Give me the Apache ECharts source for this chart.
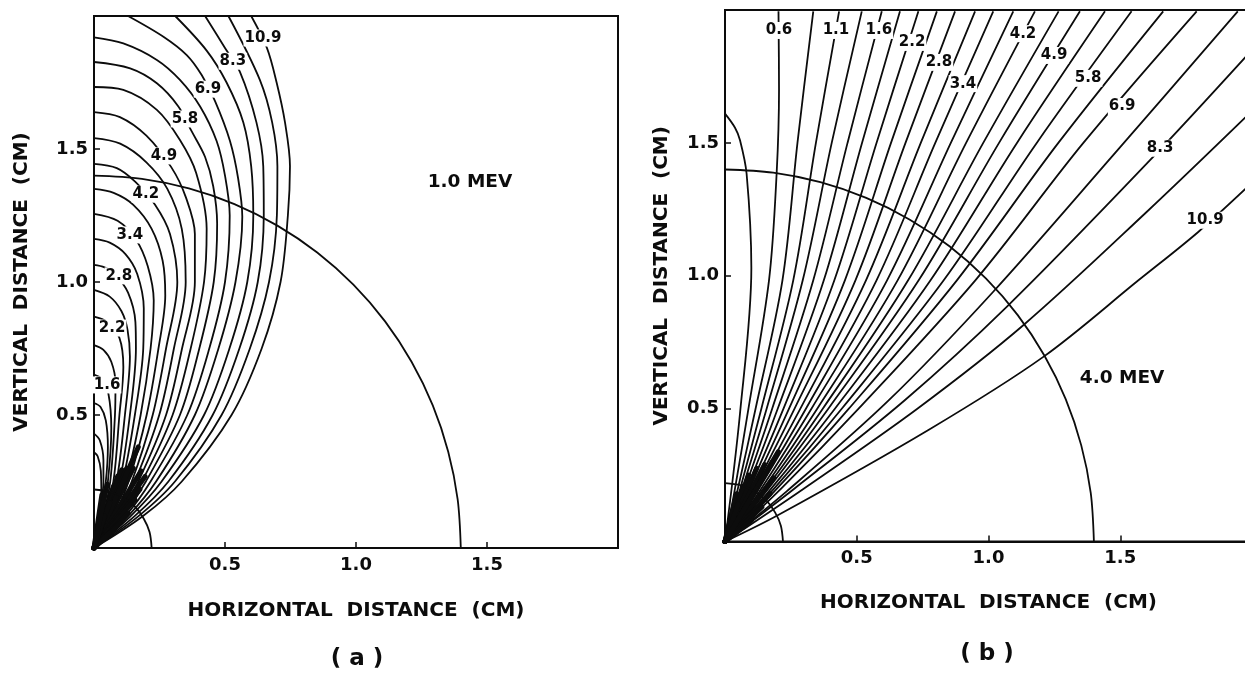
<!DOCTYPE html>
<html><head><meta charset="utf-8">
<style>html,body{margin:0;padding:0;background:#fff}#c{width:1245px;height:676px}</style>
<script src="https://cdn.jsdelivr.net/npm/echarts@6/dist/echarts.min.js"></script>
</head><body><div id="c"></div>
<script>
// Panel (a), 1.0 MeV: contour curves, [horizontal cm, vertical cm]
const a1=[[0,0],[.187,.12],[.335,.25],[.525,.5],[.64,.75],[.712,1],[.74,1.25],[.748,1.435],[.729,1.6],[.697,1.75],[.66,1.88],[.6,2]];
const a2=[[0,0],[.17,.12],[.309,.25],[.487,.5],[.595,.75],[.668,1],[.698,1.25],[.7,1.435],[.68,1.6],[.633,1.76],[.513,2]];
const a3=[[0,0],[.155,.12],[.284,.25],[.453,.5],[.555,.75],[.625,1],[.648,1.25],[.646,1.435],[.62,1.6],[.557,1.79],[.5,1.88],[.424,2]];
const a4=[[0,0],[.14,.12],[.258,.25],[.42,.5],[.517,.75],[.585,1],[.608,1.25],[.6,1.435],[.57,1.6],[.506,1.75],[.43,1.87],[.31,2]];
const a5=[[0,0],[.13,.12],[.237,.25],[.385,.5],[.475,.75],[.54,1],[.566,1.245],[.55,1.39],[.519,1.53],[.462,1.68],[.411,1.778],[.354,1.853],[.265,1.922],[.13,2]];
const a6=[[0,0],[.12,.12],[.216,.25],[.356,.5],[.44,.75],[.5,1],[.518,1.25],[.5,1.4],[.468,1.53],[.405,1.66],[.328,1.76],[.24,1.835],[.112,1.897],[0,1.92]];
const a7=[[0,0],[.11,.12],[.198,.25],[.328,.5],[.402,.75],[.457,1],[.47,1.22],[.455,1.36],[.424,1.47],[.373,1.566],[.322,1.66],[.24,1.747],[.138,1.803],[0,1.827]];
const a8=[[0,0],[.1,.12],[.183,.25],[.3,.5],[.369,.75],[.42,1],[.43,1.2],[.39,1.41],[.328,1.534],[.24,1.647],[.112,1.722],[0,1.733]];
const a9=[[0,0],[.095,.12],[.169,.25],[.275,.5],[.336,.75],[.385,1],[.385,1.18],[.35,1.32],[.296,1.43],[.2,1.55],[.099,1.62],[0,1.639]];
const a10=[[0,0],[.09,.12],[.156,.25],[.249,.5],[.305,.75],[.35,1],[.335,1.2],[.28,1.35],[.2,1.45],[.1,1.52],[0,1.541]];
const a11=[[0,0],[.08,.12],[.144,.25],[.224,.5],[.275,.75],[.318,1],[.29,1.18],[.233,1.29],[.157,1.377],[.087,1.428],[0,1.444]];
const a12=[[0,0],[.075,.12],[.132,.25],[.201,.5],[.246,.75],[.272,.95],[.262,1.08],[.22,1.2],[.15,1.29],[.075,1.335],[0,1.35]];
const a13=[[0,0],[.068,.12],[.121,.25],[.178,.5],[.216,.75],[.228,.93],[.205,1.06],[.16,1.16],[.09,1.23],[0,1.256]];
const a14=[[0,0],[.06,.12],[.109,.25],[.156,.5],[.188,.75],[.19,.9],[.165,1.03],[.12,1.105],[.06,1.148],[0,1.162]];
const a15=[[0,0],[.053,.12],[.098,.25],[.137,.5],[.16,.75],[.158,.85],[.13,.96],[.08,1.03],[.04,1.055],[0,1.064]];
const a16=[[0,0],[.047,.12],[.086,.25],[.118,.5],[.137,.72],[.128,.82],[.105,.89],[.06,.945],[0,.97]];
const a17=[[0,0],[.04,.12],[.074,.25],[.097,.5],[.112,.68],[.097,.79],[.05,.85],[0,.87]];
const a18=[[0,0],[.035,.12],[.062,.25],[.08,.5],[.082,.62],[.066,.7],[.036,.745],[0,.763]];
const a19=[[0,0],[.03,.12],[.053,.25],[.066,.45],[.055,.58],[.03,.635],[0,.652]];
const a20=[[0,0],[.025,.12],[.045,.25],[.053,.38],[.045,.48],[.025,.53],[0,.545]];
const a21=[[0,0],[.02,.12],[.036,.25],[.036,.33],[.022,.405],[0,.43]];
const a22=[[0,0],[.016,.1],[.028,.2],[.026,.29],[.014,.345],[0,.36]];
const aCurves=[a1,a2,a3,a4,a5,a6,a7,a8,a9,a10,a11,a12,a13,a14,a15,a16,a17,a18,a19,a20,a21,a22];
// Dense contours crowding into the origin of panel (a): end of each short spoke
const aDenseEnds=[[.074,.232],[.09,.27],[.106,.294],[.125,.3],[.14,.31],[.15,.3],[.169,.38],[.18,.29],[.195,.269],[.175,.22],[.156,.182],[.13,.13],[.1,.094],[.06,.17],[.04,.12],[.03,.2],[.05,.24]];

// Panel (b), 4.0 MeV
const b0=[[0,0],[.057,.483],[.1,1.03],[.082,1.384],[.057,1.51],[.038,1.557],[0,1.61]];
const b1=[[0,0],[.038,.2],[.089,.5],[.167,.983],[.196,1.386],[.205,1.7],[.203,1.995]];
const b2=[[0,0],[.049,.2],[.116,.5],[.218,.983],[.275,1.5],[.335,1.995]];
const b3=[[0,0],[.058,.2],[.138,.5],[.259,.983],[.345,1.5],[.433,1.995]];
const b4=[[0,0],[.066,.2],[.158,.5],[.295,.983],[.405,1.5],[.519,1.995]];
const b5=[[0,0],[.075,.2],[.179,.5],[.335,.983],[.465,1.5],[.595,1.995]];
const b6=[[0,0],[.084,.2],[.2,.5],[.375,.983],[.52,1.5],[.664,1.995]];
const b7=[[0,0],[.093,.2],[.222,.5],[.415,.983],[.575,1.5],[.734,1.995]];
const b8=[[0,0],[.102,.2],[.243,.5],[.455,.983],[.63,1.5],[.804,1.995]];
const b9=[[0,0],[.111,.2],[.264,.5],[.495,.983],[.685,1.5],[.873,1.995]];
const b10=[[0,0],[.12,.2],[.286,.5],[.535,.983],[.743,1.5],[.949,1.995]];
const b11=[[0,0],[.129,.2],[.307,.5],[.575,.983],[.798,1.5],[1.018,1.995]];
const b12=[[0,0],[.138,.2],[.328,.5],[.615,.983],[.857,1.5],[1.094,1.995]];
const b13=[[0,0],[.147,.2],[.35,.5],[.655,.983],[.915,1.5],[1.176,1.995]];
const b14=[[0,0],[.156,.2],[.371,.5],[.695,.983],[.98,1.5],[1.266,1.995]];
const b15=[[0,0],[.165,.2],[.392,.5],[.735,.983],[1.04,1.5],[1.347,1.995]];
const b16=[[0,0],[.176,.2],[.417,.5],[.78,.983],[1.108,1.5],[1.442,1.995]];
const b17=[[0,0],[.187,.2],[.443,.5],[.83,.983],[1.183,1.5],[1.543,1.995]];
const b18=[[0,0],[.198,.2],[.47,.5],[.88,.983],[1.265,1.5],[1.663,1.995]];
const b19=[[0,0],[.214,.2],[.507,.5],[.95,.983],[1.36,1.5],[1.79,1.995]];
const b20=[[0,0],[.235,.19],[.62,.53],[1.018,.94],[1.47,1.45],[1.946,1.995]];
const b21=[[0,0],[.264,.2],[.68,.53],[1.075,.889],[1.613,1.435],[2,1.85]];
const b22=[[0,0],[.3,.2],[.73,.5],[1.132,.814],[1.6,1.24],[2,1.62]];
const b23=[[0,0],[.202,.1],[.772,.42],[1.208,.695],[1.569,.983],[1.796,1.165],[2,1.35]];
const bCurves=[b0,b1,b2,b3,b4,b5,b6,b7,b8,b9,b10,b11,b12,b13,b14,b15,b16,b17,b18,b19,b20,b21,b22,b23];
const bDenseEnds=[[.044,.18],[.07,.21],[.09,.25],[.12,.276],[.15,.29],[.18,.3],[.202,.338],[.185,.24],[.171,.18],[.14,.13],[.1,.08],[.03,.12],[.05,.14],[.12,.2]];

// Range arcs, 1.4 cm and 0.22 cm
const arcOuter=[[0,1.4],[.183,1.388],[.362,1.352],[.536,1.293],[.7,1.212],[.852,1.111],[.99,.99],[1.111,.852],[1.212,.7],[1.293,.536],[1.352,.362],[1.388,.183],[1.4,0]];
const arcInner=[[0,.22],[.06,.212],[.11,.19],[.156,.156],[.19,.11],[.212,.06],[.22,0]];

// Curve labels
const aLabelText=['10.9','8.3','6.9','5.8','4.9','4.2','3.4','2.8','2.2','1.6'];
const aLabelAt=[[.645,1.917],[.53,1.83],[.435,1.725],[.347,1.613],[.267,1.474],[.198,1.33],[.137,1.177],[.095,1.023],[.069,.827],[.05,.613]];
const bLabelText=['0.6','1.1','1.6','2.2','2.8','3.4','4.2','4.9','5.8','6.9','8.3','10.9'];
const bLabelAt=[[.205,1.923],[.421,1.923],[.584,1.923],[.71,1.878],[.812,1.803],[.903,1.723],[1.131,1.911],[1.249,1.829],[1.378,1.743],[1.507,1.637],[1.651,1.48],[1.822,1.209]];
const tickLabels={0.5:'0.5',1:'1.0',1.5:'1.5'};
const xTitle='HORIZONTAL  DISTANCE  (CM)';
const yTitle='VERTICAL  DISTANCE  (CM)';

const FONT='"DejaVu Sans"';
const INK='#0c0c0c';
function axis(name,gap,rot,margin){return {
  type:'value',min:0,max:2,interval:.5,name:name,nameLocation:'middle',nameGap:gap,
  nameTextStyle:{color:INK,fontFamily:FONT,fontWeight:'bold',fontSize:20},
  nameRotate:rot,
  axisLine:{show:true,onZero:false,lineStyle:{color:INK,width:2}},
  axisTick:{show:true,inside:true,length:6,lineStyle:{color:INK,width:1.5}},
  splitLine:{show:false},
  axisLabel:{color:INK,fontFamily:FONT,fontSize:18,fontWeight:'bold',margin:margin,formatter:v=>tickLabels[v]||''}
};}
function line(data,i){return {type:'line',xAxisIndex:i,yAxisIndex:i,data:data,smooth:.33,showSymbol:false,silent:true,
  lineStyle:{color:INK,width:1.8},z:2};}
function spoke(end,i){return {type:'line',xAxisIndex:i,yAxisIndex:i,data:[[0,0],end],showSymbol:false,silent:true,
  lineStyle:{color:INK,width:5,cap:'round'},z:2};}
function labels(text,at,i){return {type:'scatter',xAxisIndex:i,yAxisIndex:i,symbolSize:0,silent:true,z:5,itemStyle:{opacity:1},
  data:at.map((p,k)=>({value:p,name:text[k]})),
  label:{show:true,position:'inside',formatter:'{b}',color:INK,opacity:1,fontFamily:FONT,fontSize:15,fontWeight:'bold',backgroundColor:'#fff',padding:[1,1]}};}
const note=(t,x,y,i)=>({type:'scatter',xAxisIndex:i,yAxisIndex:i,symbolSize:0,silent:true,z:5,itemStyle:{opacity:1},
  data:[{value:[x,y],name:t}],label:{show:true,position:'inside',formatter:'{b}',color:INK,opacity:1,fontFamily:FONT,fontSize:18.5,fontWeight:'bold'}});

const chart=echarts.init(document.getElementById('c'),null,{renderer:'canvas'});
const capStyle={color:INK,fontFamily:FONT,fontWeight:'bold',fontSize:23};
chart.setOption({
  animation:false,backgroundColor:'#fff',
  title:[
    {text:'( a )',left:357,top:648,textAlign:'center',padding:0,textStyle:capStyle},
    {text:'( b )',left:987,top:643,textAlign:'center',padding:0,textStyle:capStyle}
  ],
  grid:[
    {left:94,top:16,width:524,height:532,outerBoundsMode:'none',show:true,borderColor:INK,borderWidth:2,backgroundColor:'transparent'},
    {left:725,top:10,width:527,height:531.6,outerBoundsMode:'none',show:true,borderColor:INK,borderWidth:2,backgroundColor:'transparent'}
  ],
  xAxis:[Object.assign(axis(xTitle,53,0,8),{gridIndex:0}),Object.assign(axis(xTitle,51,0,7.5),{gridIndex:1})],
  yAxis:[Object.assign(axis(yTitle,62,90,6),{gridIndex:0}),Object.assign(axis(yTitle,53,90,6),{gridIndex:1})],
  series:[
    ...aCurves.map(c=>line(c,0)),
    ...aDenseEnds.map(e=>spoke(e,0)),
    line(arcOuter,0),line(arcInner,0),
    labels(aLabelText,aLabelAt,0),
    note('1.0 MEV',1.435,1.376,0),
    ...bCurves.map(c=>line(c,1)),
    ...bDenseEnds.map(e=>spoke(e,1)),
    line(arcOuter,1),line(arcInner,1),
    labels(bLabelText,bLabelAt,1),
    note('4.0 MEV',1.507,.615,1)
  ]
});
</script></body></html>
